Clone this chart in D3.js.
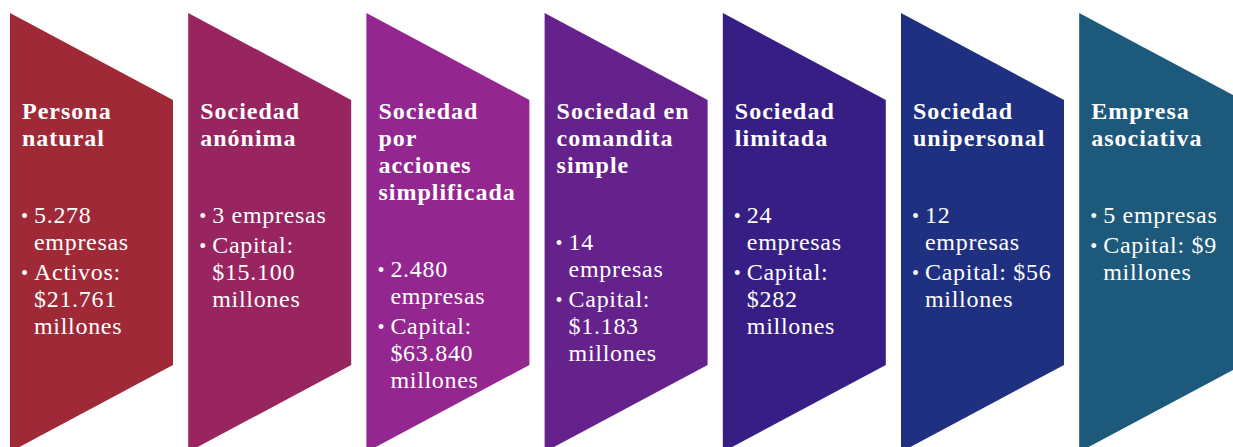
<!DOCTYPE html>
<html>
<head>
<meta charset="utf-8">
<script src="https://cdn.jsdelivr.net/npm/d3@7"></script>
<style>
  body { margin: 0; background: #fff; }
  svg { display: block; }
</style>
</head>
<body>
<div class="chart"></div>
<script>
var width = 1233;
var height = 447;

// data
var categories = ['Persona natural', 'Sociedad anónima', 'Sociedad por acciones simplificada',
  'Sociedad en comandita simple', 'Sociedad limitada', 'Sociedad unipersonal', 'Empresa asociativa'];

var titleLines = [
  ['Persona', 'natural'],
  ['Sociedad', 'anónima'],
  ['Sociedad', 'por', 'acciones', 'simplificada'],
  ['Sociedad en', 'comandita', 'simple'],
  ['Sociedad', 'limitada'],
  ['Sociedad', 'unipersonal'],
  ['Empresa', 'asociativa']
];

var empresasLines = [
  ['5.278', 'empresas'],
  ['3 empresas'],
  ['2.480', 'empresas'],
  ['14', 'empresas'],
  ['24', 'empresas'],
  ['12', 'empresas'],
  ['5 empresas']
];

var capitalLines = [
  ['Activos:', '$21.761', 'millones'],
  ['Capital:', '$15.100', 'millones'],
  ['Capital:', '$63.840', 'millones'],
  ['Capital:', '$1.183', 'millones'],
  ['Capital:', '$282', 'millones'],
  ['Capital: $56', 'millones'],
  ['Capital: $9', 'millones']
];

var colors = ['#a02937', '#982460', '#93278f', '#65218c', '#371e84', '#1f3080', '#1d597b'];

var svg = d3.select('.chart')
  .append('svg')
    .attr('width', width)
    .attr('height', height);

var x = d3.scaleBand()
  .domain(categories)
  .range([10, 1242.2])
  .paddingInner(0.0853)
  .paddingOuter(0);

var bw = x.bandwidth();
var yTop = 13, tipTop = 100, tipBot = 365, yBottom = 452;
var lineH = 27;
var font = '"Liberation Serif", "Times New Roman", serif';

var groups = svg.selectAll('.step')
  .data(categories)
  .enter()
  .append('g')
    .attr('class', 'step')
    .attr('transform', d => `translate(${x(d)}, 0)`);

groups.append('path')
  .attr('d', `M0,${yTop}L${bw},${tipTop}L${bw},${tipBot}L0,${yBottom}Z`)
  .style('fill', (d, i) => colors[i]);

// titles and bullets
groups.each(function(d, i) {
  var g = d3.select(this);
  var t = titleLines[i];
  g.selectAll('.title')
    .data(t)
    .enter()
    .append('text')
      .attr('class', 'title')
      .attr('x', 12)
      .attr('y', (l, j) => 119 + j * lineH)
      .style('font-family', font)
      .style('font-weight', 'bold')
      .style('font-size', '24px')
      .style('letter-spacing', '1px')
      .style('fill', '#fff')
      .text(l => l);

  var yy = 119 + (t.length - 1) * lineH + 77;
  [empresasLines[i], capitalLines[i]].forEach(function(b) {
    g.append('text')
      .attr('x', 11)
      .attr('y', yy)
      .style('font-family', font)
      .style('font-size', '20px')
      .style('fill', '#fff')
      .text('•');
    b.forEach(function(l, j) {
      g.append('text')
        .attr('x', 24)
        .attr('y', yy + j * lineH)
        .style('font-family', font)
        .style('font-size', '24px')
        .style('letter-spacing', '0.7px')
        .style('fill', '#fff')
        .text(l);
    });
    yy += b.length * lineH + 3;
  });
});
</script>
</body>
</html>
